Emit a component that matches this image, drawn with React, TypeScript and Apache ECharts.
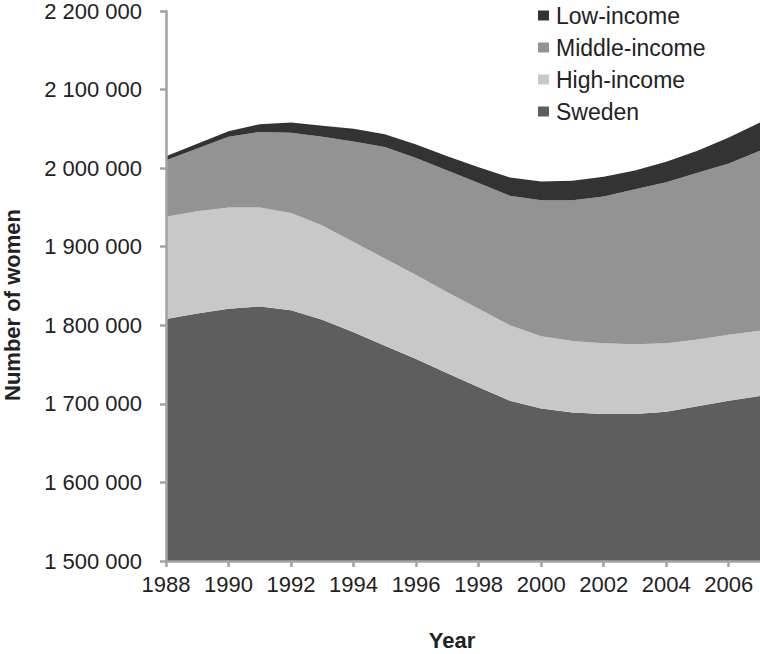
import React, { useEffect, useRef } from "react";
import * as echarts from "echarts";

const years = [
  "1988", "1989", "1990", "1991", "1992", "1993", "1994", "1995", "1996", "1997",
  "1998", "1999", "2000", "2001", "2002", "2003", "2004", "2005", "2006", "2007",
];
const sweden = [
  1808000, 1815000, 1821000, 1824000, 1819000, 1807000, 1791000, 1774000, 1757000, 1739000,
  1721000, 1704000, 1694000, 1689000, 1687000, 1687000, 1690000, 1697000, 1704000, 1710000,
];
const highIncome = [
  130000, 130000, 129000, 126000, 124000, 120000, 115000, 111000, 107000, 103000,
  100000, 96000, 92000, 91000, 90000, 89000, 87000, 85000, 84000, 83000,
];
const middleIncome = [
  72000, 80000, 90000, 96000, 102000, 113000, 128000, 142000, 149000, 155000,
  160000, 165000, 173000, 179000, 187000, 197000, 205000, 212000, 218000, 229000,
];
const lowIncome = [
  5000, 6000, 7000, 10000, 13000, 14000, 16000, 16000, 17000, 18000,
  20000, 23000, 24000, 25000, 25000, 24000, 26000, 28000, 33000, 36000,
];
const legendOrder = ["Low-income", "Middle-income", "High-income", "Sweden"];

const FONT = "Liberation Sans, Arial, Helvetica, sans-serif";
const AXIS_COLOR = "#a3a3a3";

export default function App() {
  const ref = useRef<HTMLDivElement>(null);
  useEffect(() => {
    if (!ref.current) return;
    const chart = echarts.init(ref.current, null, { renderer: "svg" });
    const mk = (name: string, data: number[], color: string) => ({
      name,
      type: "line",
      stack: "total",
      data,
      showSymbol: false,
      symbol: "none",
      lineStyle: { width: 0 },
      areaStyle: { color, opacity: 1 },
      itemStyle: { color },
    });
    chart.setOption({
      animation: false,
      textStyle: { fontFamily: FONT },
      grid: { left: 166, right: 0, top: 10, bottom: 93, containLabel: false },
      legend: {
        data: legendOrder,
        orient: "vertical",
        left: 533,
        top: -1,
        icon: "rect",
        itemWidth: 11,
        itemHeight: 10,
        itemGap: 9,
        textStyle: { fontFamily: FONT, fontSize: 23, color: "#222", padding: [0, 0, 0, 2] },
      },
      xAxis: {
        type: "category",
        data: years,
        boundaryGap: false,
        axisLine: { lineStyle: { color: AXIS_COLOR, width: 2.5 } },
        axisTick: { show: true, interval: 1, length: 6, lineStyle: { color: AXIS_COLOR, width: 2.5 } },
        axisLabel: { interval: 1, margin: 12, fontSize: 22, color: "#222", fontFamily: FONT },
        splitLine: { show: false },
        z: 10,
      },
      yAxis: {
        type: "value",
        min: 1500000,
        max: 2200000,
        interval: 100000,
        axisLine: { show: true, lineStyle: { color: AXIS_COLOR, width: 2.5 } },
        axisTick: { show: true, length: 6, lineStyle: { color: AXIS_COLOR, width: 2.5 } },
        axisLabel: {
          margin: 24,
          fontSize: 22,
          color: "#222",
          fontFamily: FONT,
          formatter: (v: number) => String(Math.round(v)).replace(/\B(?=(\d{3})+(?!\d))/g, " "),
        },
        splitLine: { show: false },
        z: 10,
      },
      graphic: [
        {
          type: "text",
          x: 12,
          y: 305,
          rotation: Math.PI / 2,
          style: {
            text: "Number of women",
            font: "bold 22px " + FONT,
            fill: "#222",
            textAlign: "center",
            textVerticalAlign: "middle",
          },
        },
        {
          type: "text",
          x: 452,
          y: 640,
          style: {
            text: "Year",
            font: "bold 22px " + FONT,
            fill: "#222",
            textAlign: "center",
            textVerticalAlign: "middle",
          },
        },
      ],
      series: [
        mk("Sweden", sweden, "#5e5e5e"),
        mk("High-income", highIncome, "#c8c8c8"),
        mk("Middle-income", middleIncome, "#939393"),
        mk("Low-income", lowIncome, "#333333"),
      ],
    });
    return () => chart.dispose();
  }, []);
  return (
    <div
      ref={ref}
      style={{ position: "absolute", left: 0, top: 0, width: 760, height: 654, background: "#fff" }}
    />
  );
}
